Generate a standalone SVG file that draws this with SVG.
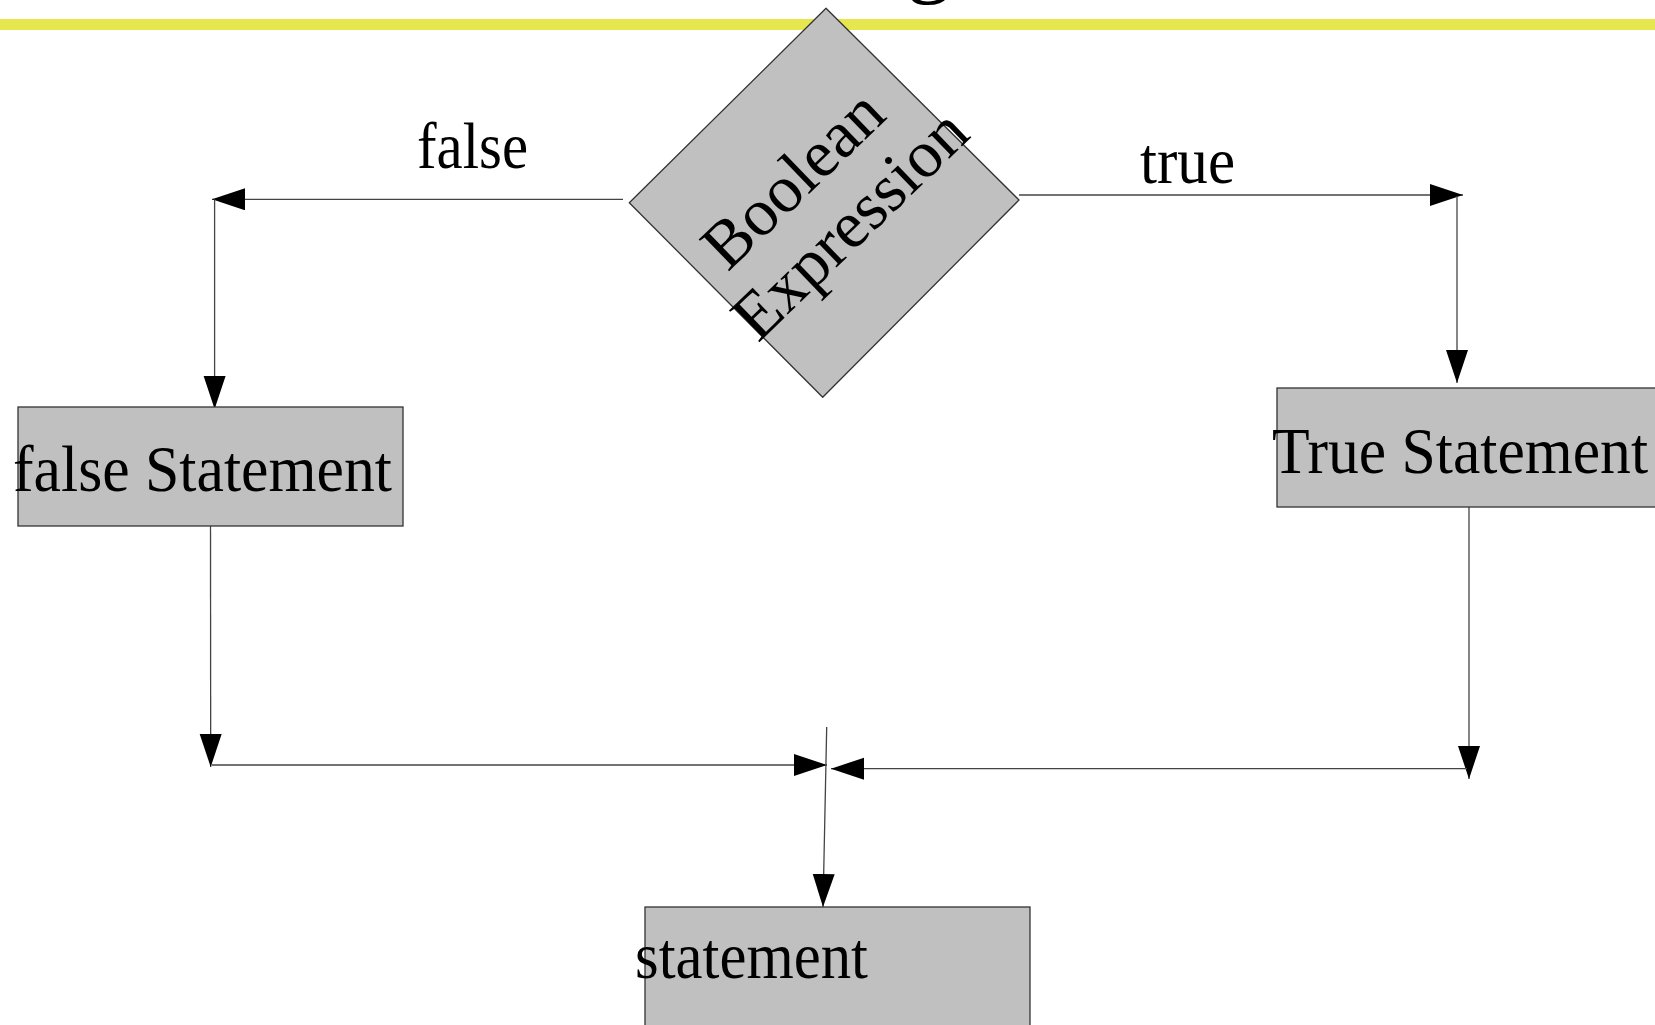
<svg xmlns="http://www.w3.org/2000/svg" width="1655" height="1025" viewBox="0 0 1655 1025">
<defs>
<style>
.box{fill:#c0c0c0;stroke:#333;stroke-width:1.3}
.t{font-family:"Liberation Serif","Times New Roman",serif;fill:#000}
.big{font-size:66px}
.conn{stroke:#444;stroke-width:1.3;fill:none}
</style>
<marker id="ah" markerUnits="userSpaceOnUse" markerWidth="34" markerHeight="24" refX="33" refY="11" orient="auto">
<path d="M0,0 L33,11 L0,22 z" fill="#000"/>
</marker>
</defs>
<rect width="1655" height="1025" fill="#fff"/>
<text class="t" x="929" y="-14" font-size="90" text-anchor="middle">g</text>
<rect x="0" y="19" width="1655" height="11" fill="#e6e64e"/>
<g id="connectors">
<path class="conn" d="M623,199.3 H212" marker-end="url(#ah)"/>
<path class="conn" d="M214.6,199.3 V409" marker-end="url(#ah)"/>
<path class="conn" d="M1019,195 H1463" marker-end="url(#ah)"/>
<path class="conn" d="M1457,196 V383" marker-end="url(#ah)"/>
<path class="conn" d="M210.5,522 L210.7,767" marker-end="url(#ah)"/>
<path class="conn" d="M212,765 H827" marker-end="url(#ah)"/>
<path class="conn" d="M1469,504 V779" marker-end="url(#ah)"/>
<path class="conn" d="M1467,768.7 H831" marker-end="url(#ah)"/>
<path class="conn" d="M826.7,727 L823,907" marker-end="url(#ah)"/>
<text class="t big" x="417" y="168" textLength="111" lengthAdjust="spacingAndGlyphs">false</text>
<text class="t big" x="1140" y="183" textLength="95" lengthAdjust="spacingAndGlyphs">true</text>
</g>
<g id="decision">
<polygon class="box" stroke-linejoin="round" points="826,8.3 1019,200 822.7,397.3 629.3,202.7"/>
<text class="t" font-size="67" text-anchor="middle" transform="translate(808,195) rotate(-44)">Boolean</text>
<text class="t" font-size="67" text-anchor="middle" transform="translate(865,240) rotate(-44)">Expression</text>
</g>
<g id="false-statement">
<rect class="box" x="18" y="407" width="385" height="119"/>
<text class="t big" x="13" y="491" textLength="379" lengthAdjust="spacingAndGlyphs">false Statement</text>
</g>
<g id="true-statement">
<rect class="box" x="1277" y="388" width="400" height="119"/>
<text class="t big" x="1272" y="473" textLength="376" lengthAdjust="spacingAndGlyphs">True Statement</text>
</g>
<g id="statement">
<rect class="box" x="645" y="907" width="385" height="140"/>
<text class="t big" x="635" y="978" textLength="233" lengthAdjust="spacingAndGlyphs">statement</text>
</g>
</svg>
